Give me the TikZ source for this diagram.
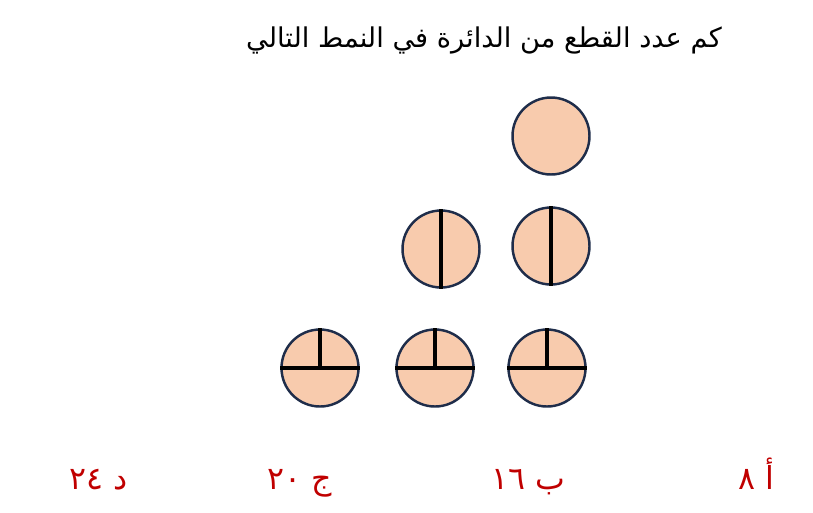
\documentclass[tikz,border=0pt]{standalone}
\usepackage{fontspec}
\newfontfamily\arabicfont[Script=Arabic]{DejaVu Sans}
\TeXXeTstate=1
\usetikzlibrary{positioning}
\definecolor{piecefill}{HTML}{F8CBAD}
\definecolor{pieceedge}{HTML}{1F2D4A}
\definecolor{choicered}{HTML}{C00000}
\begin{document}
\begin{tikzpicture}[x=0.02cm, y=-0.02cm,
      piece/.style={circle, draw=pieceedge, fill=piecefill, line width=1.4pt,
        minimum size=1.54cm, inner sep=0pt},
      cutline/.style={line width=2.8pt, black},
      choice/.style={anchor=base east, inner sep=0pt, text=choicered,
        font=\arabicfont\fontsize{18}{22}\selectfont}]
    \useasboundingbox (0,0) rectangle (813,512);
    \node (question) [anchor=base east, inner sep=0pt,
      font=\arabicfont\fontsize{15.5}{19}\selectfont] at (722,47)
      {\beginR كم عدد القطع من الدائرة في النمط التالي\endR};
    % row 1
    \node (one) [piece] at (551,136) {};
    % row 2
    \node (twoa) [piece] at (441,249) {};
    \node (twob) [piece] at (551,246) {};
    \draw[cutline] (twoa.north) -- (twoa.south);
    \draw[cutline] (twob.north) -- (twob.south);
    % row 3
    \foreach \n/\x in {threea/320, threeb/435, threec/547} {
      \node (\n) [piece] at (\x,368) {};
      \draw[cutline] (\n.west) -- (\n.east) (\n.center) -- (\n.north);
    }
    % choices
    \node (ansa) [choice] at (775,489) {\beginR أ \beginL٨\endL\endR};
    \node (ansb) [choice] at (566,489) {\beginR ب \beginL١٦\endL\endR};
    \node (ansc) [choice] at (332,489) {\beginR ج \beginL٢٠\endL\endR};
    \node (ansd) [choice] at (128,489) {\beginR د \beginL٢٤\endL\endR};
  \end{tikzpicture}
\end{document}
